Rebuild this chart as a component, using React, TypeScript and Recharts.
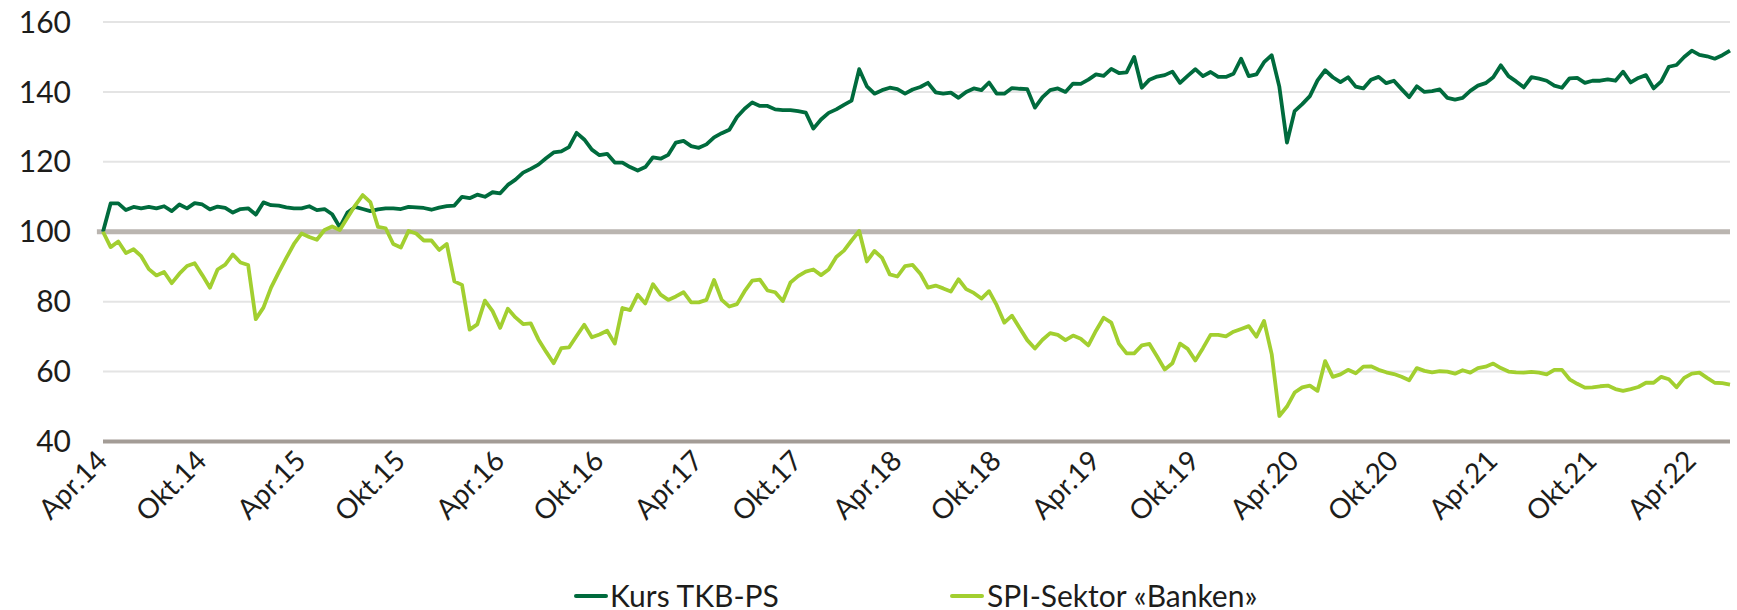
import React from 'react';
import { LineChart, Line, XAxis, YAxis, CartesianGrid, ReferenceLine, Legend } from 'recharts';

const tkbValues: number[] = [
  100, 108.1, 108.1, 106.2, 107.1, 106.7, 107.1, 106.7, 107.3, 105.9,
  107.8, 106.7, 108.2, 107.8, 106.4, 107.2, 106.8, 105.5, 106.5, 106.7,
  104.9, 108.4, 107.6, 107.5, 107.0, 106.7, 106.7, 107.3, 106.2, 106.5,
  105, 101.3, 105.5, 107.1, 106.5, 105.9, 106.4, 106.7, 106.7, 106.5,
  107.1, 107, 106.8, 106.3, 106.9, 107.3, 107.5, 110, 109.6, 110.6,
  110, 111.3, 111, 113.4, 114.9, 116.9, 118, 119.2, 121, 122.7,
  123, 124.2, 128.3, 126.4, 123.5, 121.9, 122.3, 119.8, 119.8, 118.5,
  117.5, 118.5, 121.3, 120.9, 122, 125.5, 126, 124.5, 124, 125,
  127, 128.2, 129.2, 132.8, 135.2, 137, 136, 136, 135, 134.8,
  134.8, 134.5, 134.1, 129.5, 132.1, 134, 135, 136.3, 137.5, 146.5,
  141.6, 139.5, 140.5, 141.2, 140.8, 139.5, 140.7, 141.4, 142.6, 139.9,
  139.5, 139.8, 138.3, 140, 141, 140.5, 142.7, 139.5, 139.5, 141.1,
  140.9, 140.8, 135.5, 138.5, 140.5, 141, 140, 142.4, 142.3, 143.5,
  145, 144.6, 146.6, 145.4, 145.6, 150, 141.2, 143.5, 144.4, 144.8,
  145.8, 142.6, 144.6, 146.5, 144.5, 145.7, 144.3, 144.3, 145.2, 149.5,
  144.5, 145, 148.5, 150.5, 141.5, 125.5, 134.5, 136.5, 138.8, 143.3,
  146.2, 144.2, 142.8, 144.2, 141.5, 141, 143.5, 144.3, 142.5, 143.2,
  140.8, 138.5, 141.6, 140, 140.2, 140.7, 138.3, 137.8, 138.3, 140.3,
  141.8, 142.5, 144.2, 147.6, 144.5, 143, 141.3, 144.2, 143.8, 143.2,
  141.8, 141.2, 143.9, 144, 142.6, 143.2, 143.2, 143.6, 143.2, 145.8,
  142.7, 144, 144.8, 141, 143, 147.2, 147.7, 150, 151.8, 150.6,
  150.2, 149.5, 150.5, 151.8,
];

const spiValues: number[] = [
  100, 95.6, 97.2, 93.9, 95, 93, 89.3, 87.5, 88.5, 85.3,
  88, 90.2, 91, 87.6, 84, 89.2, 90.6, 93.5, 91.2, 90.5,
  75, 78.3, 84, 88.4, 92.5, 96.5, 99.5, 98.5, 97.7, 100.5,
  101.5, 100.5, 104, 107.5, 110.5, 108.5, 101.4, 101, 96.5, 95.5,
  100.2, 99.5, 97.5, 97.5, 94.8, 96.5, 85.8, 84.8, 72, 73.5,
  80.3, 77.3, 72.5, 78, 75.5, 73.6, 73.8, 69.2, 65.7, 62.4,
  66.7, 66.9, 70.2, 73.4, 69.8, 70.6, 71.7, 68, 78.2, 77.6,
  82, 79.5, 85, 82, 80.5, 81.5, 82.7, 79.8, 79.8, 80.5,
  86.2, 80.5, 78.6, 79.3, 83, 86, 86.3, 83.2, 82.7, 80.2,
  85.5, 87.3, 88.6, 89.2, 87.6, 89.2, 92.8, 94.6, 97.5, 100.2,
  91.5, 94.5, 92.5, 87.8, 87.2, 90.2, 90.5, 88, 84, 84.6,
  83.8, 82.9, 86.4, 83.6, 82.5, 80.9, 83, 79, 74, 76,
  72.5, 69, 66.6, 69.1, 71, 70.5, 69, 70.3, 69.4, 67.5,
  71.7, 75.4, 74, 68, 65.2, 65.2, 67.5, 67.9, 64.3, 60.6,
  62.4, 68, 66.5, 63.2, 66.7, 70.5, 70.5, 70.1, 71.4, 72.2,
  73, 70, 74.5, 65, 47.3, 50, 54, 55.5, 56, 54.5,
  63, 58.5, 59.2, 60.5, 59.5, 61.4, 61.5, 60.5, 59.8, 59.3,
  58.5, 57.5, 61, 60.2, 59.8, 60.1, 60, 59.4, 60.4, 59.7,
  61, 61.4, 62.3, 61, 60, 59.8, 59.7, 59.9, 59.7, 59.2,
  60.5, 60.5, 57.8, 56.5, 55.4, 55.5, 55.8, 56, 55, 54.5,
  55, 55.6, 56.8, 56.8, 58.5, 57.8, 55.5, 58.2, 59.4, 59.7,
  58.2, 56.8, 56.7, 56.3,
];

const tickLabels: string[] = [
  'Apr.14', 'Okt.14', 'Apr.15', 'Okt.15', 'Apr.16', 'Okt.16', 'Apr.17', 'Okt.17',
  'Apr.18', 'Okt.18', 'Apr.19', 'Okt.19', 'Apr.20', 'Okt.20', 'Apr.21', 'Okt.21', 'Apr.22',
];
const pointsPerHalfYear = 13;
const tickIndices: number[] = tickLabels.map((_, k) => k * pointsPerHalfYear);
const yTicks: number[] = [40, 60, 80, 100, 120, 140, 160];
const seriesNames: string[] = ['Kurs TKB-PS', 'SPI-Sektor «Banken»'];

const COLOR_TKB = '#006b3d';
const COLOR_SPI = '#a2cf30';
const TEXT = '#1d1d1b';
const FONT = 'Lato, "Open Sans", sans-serif';

const data = tkbValues.map((v, i) => ({ i, tkb: v, spi: spiValues[i] }));
const lastIndex = data.length - 1;

const XTick = (props: any) => {
  const { x, y, payload } = props;
  const k = tickIndices.indexOf(payload.value);
  const label = k >= 0 ? tickLabels[k] : '';
  return (
    <g transform={`translate(${x + 6},${y + 13})`}>
      <text transform="rotate(-45)" textAnchor="end" fill={TEXT} fontSize={28} fontFamily={FONT}>
        {label}
      </text>
    </g>
  );
};

const LegendContent = () => (
  <div style={{ position: 'relative', width: 1737, height: 50, fontFamily: FONT }}>
    <div style={{ position: 'absolute', left: 574, top: 34, width: 34, height: 4, background: COLOR_TKB, borderRadius: 2 }} />
    <div style={{ position: 'absolute', left: 610, top: 17, fontSize: 30, lineHeight: '36px', color: TEXT, whiteSpace: 'nowrap' }}>
      {seriesNames[0]}
    </div>
    <div style={{ position: 'absolute', left: 950, top: 34, width: 34, height: 4, background: COLOR_SPI, borderRadius: 2 }} />
    <div style={{ position: 'absolute', left: 987, top: 17, fontSize: 30, lineHeight: '36px', color: TEXT, whiteSpace: 'nowrap' }}>
      {seriesNames[1]}
    </div>
  </div>
);

export default function App() {
  return (
    <div style={{ position: 'absolute', left: 0, top: 0, width: 1737, height: 610, background: '#ffffff' }}>
      <LineChart
        width={1737}
        height={610}
        data={data}
        margin={{ top: 22, right: 7, bottom: 0, left: 23 }}
      >
        <CartesianGrid horizontal vertical={false} stroke="#e4e4e4" strokeWidth={2} />
        <XAxis
          dataKey="i"
          type="number"
          domain={[0, lastIndex]}
          ticks={tickIndices}
          interval={0}
          tick={<XTick />}
          tickLine={false}
          axisLine={{ stroke: '#a39c96', strokeWidth: 4 }}
          height={118.5}
        />
        <YAxis
          domain={[40, 160]}
          ticks={yTicks}
          interval={0}
          axisLine={false}
          tickLine={false}
          tickSize={0}
          tickMargin={32}
          width={80}
          tick={{ fill: TEXT, fontSize: 30, fontFamily: FONT }}
        />
        <ReferenceLine
          segment={[{ x: -0.8, y: 100 }, { x: lastIndex, y: 100 }]}
          stroke="#bab5b0"
          strokeWidth={5}
          ifOverflow="visible"
        />
        <Line
          type="linear"
          dataKey="tkb"
          name={seriesNames[0]}
          stroke={COLOR_TKB}
          strokeWidth={3.8}
          dot={false}
          strokeLinejoin="round"
          isAnimationActive={false}
        />
        <Line
          type="linear"
          dataKey="spi"
          name={seriesNames[1]}
          stroke={COLOR_SPI}
          strokeWidth={3.8}
          dot={false}
          strokeLinejoin="round"
          isAnimationActive={false}
        />
        <Legend
          verticalAlign="bottom"
          height={50}
          wrapperStyle={{ left: 0, width: 1737, bottom: 0 }}
          content={<LegendContent />}
        />
      </LineChart>
    </div>
  );
}
